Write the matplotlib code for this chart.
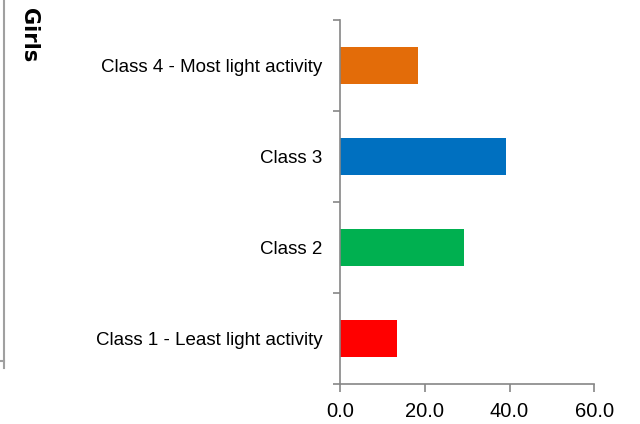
import matplotlib.pyplot as plt
from matplotlib.lines import Line2D

plt.rcParams['font.family'] = ['Liberation Sans', 'DejaVu Sans']

# data
classes = ['Class 1 - Least light activity', 'Class 2', 'Class 3',
           'Class 4 - Most light activity']
values = [13.5, 29.2, 39.2, 18.3]
colors = ['#ff0000', '#00b050', '#0070c0', '#e36c09']
xticks = [0, 20, 40, 60]
group_label = 'Girls'

axis_col = '#868686'

fig = plt.figure(figsize=(6.4, 4.24), dpi=100)
ax = fig.add_axes([340 / 640, 1 - 384 / 424, 254.3 / 640, 364 / 424])

pos = range(len(classes))
ax.barh(pos, values, height=0.4, color=colors)

ax.set_xlim(0, 60)
ax.set_ylim(-0.5, len(classes) - 0.5)
ax.set_xticks(xticks)
ax.set_xticklabels([f'{v:.1f}' for v in xticks], fontsize=14.5)
ax.set_yticks(pos)
ax.set_yticklabels(classes, fontsize=13.5)
ax.set_yticks([p - 0.5 for p in range(len(classes) + 1)], minor=True)
ax.tick_params(axis='y', which='major', length=0, pad=12.5)
ax.tick_params(axis='y', which='minor', length=5, color=axis_col, width=1.2)
ax.tick_params(axis='x', length=6, color=axis_col, width=1.2, pad=7)

for s in ['top', 'right']:
    ax.spines[s].set_visible(False)
for s in ['left', 'bottom']:
    ax.spines[s].set_color(axis_col)
    ax.spines[s].set_linewidth(1.2)

# outer group label and bracket line
fig.text(29 / 640, 1 - 35 / 424, group_label, rotation=-90, fontsize=15,
         fontweight='bold', family='DejaVu Sans', ha='center', va='center')
fig.add_artist(Line2D([3.5 / 640, 3.5 / 640], [1, 1 - 368 / 424],
                      color='#a0a0a0', lw=1.5, transform=fig.transFigure))
fig.add_artist(Line2D([0, 3.5 / 640], [1 - 361 / 424, 1 - 361 / 424],
                      color='#a0a0a0', lw=1.5, transform=fig.transFigure))

fig.savefig('out.png', dpi=100)
